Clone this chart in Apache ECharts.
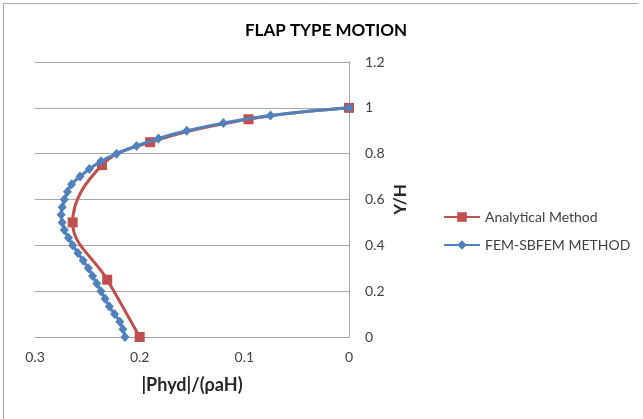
<!DOCTYPE html>
<html>
<head>
<meta charset="utf-8">
<script src="https://cdn.jsdelivr.net/npm/echarts@6/dist/echarts.min.js"></script>
<style>html,body{margin:0;padding:0;background:#fff;}#c{width:643px;height:419px;}</style>
</head>
<body>
<div id="c"></div>
<script>
var title = 'FLAP TYPE MOTION';
var xName = '|Phyd|/(\u03c1aH)';
var yName = 'Y/H';
var seriesNames = ['Analytical Method', 'FEM-SBFEM METHOD'];
var xTicks = [0, 0.1, 0.2, 0.3];
var yTicks = [0, 0.2, 0.4, 0.6, 0.8, 1, 1.2];

var analyticalY = [0, 0.25, 0.5, 0.75, 0.85, 0.95, 1];
var analyticalX = [0.200, 0.231, 0.264, 0.236, 0.190, 0.096, 0];

var femY = [0, 0.0333, 0.0667, 0.1, 0.1333, 0.1667, 0.2, 0.2333, 0.2667, 0.3, 0.3333,
  0.3667, 0.4, 0.4333, 0.4667, 0.5, 0.5333, 0.5667, 0.6, 0.6333, 0.6667,
  0.7, 0.7333, 0.7667, 0.8, 0.8333, 0.8667, 0.9, 0.9333, 0.9667, 1];
var femX = [0.214, 0.216, 0.219, 0.224, 0.229, 0.233, 0.237, 0.241, 0.245, 0.249, 0.254,
  0.259, 0.264, 0.268, 0.272, 0.274, 0.275, 0.274, 0.272, 0.269, 0.265,
  0.257, 0.248, 0.237, 0.222, 0.203, 0.182, 0.155, 0.120, 0.075, 0];

function pairs(xs, ys) { return xs.map(function (v, i) { return [v, ys[i]]; }); }

var font = 'Lato, "Open Sans", sans-serif';
var chart = echarts.init(document.getElementById('c'), null, { renderer: 'canvas' });
chart.setOption({
  animation: false,
  backgroundColor: '#ffffff',
  title: {
    text: title, left: 321, top: 17, textAlign: 'center',
    textStyle: { fontFamily: font, fontSize: 17, fontWeight: 'bold', color: '#000' }
  },
  legend: {
    orient: 'vertical', left: 438, top: 205, itemWidth: 36, itemHeight: 12, itemGap: 14,
    data: seriesNames,
    textStyle: { fontFamily: font, fontSize: 14, color: '#404040' }
  },
  grid: { left: 35, right: 294, top: 62, bottom: 82, containLabel: false },
  xAxis: {
    type: 'value', inverse: true, min: 0, max: 0.3, interval: 0.1,
    name: xName, nameLocation: 'middle', nameGap: 39,
    nameTextStyle: { fontFamily: font, fontSize: 18, fontWeight: 'bold', color: '#262626' },
    axisLine: { show: true, lineStyle: { color: '#a6a6a6', width: 1 } },
    axisTick: { show: false },
    splitLine: { show: false },
    axisLabel: { fontFamily: font, fontSize: 14, color: '#404040', margin: 13,
      formatter: function (v) { return String(Math.round(v * 10) / 10); } }
  },
  yAxis: {
    type: 'value', position: 'right', min: 0, max: 1.2, interval: 0.2,
    name: yName, nameLocation: 'middle', nameGap: 43, nameRotate: 90,
    nameTextStyle: { fontFamily: font, fontSize: 17, fontWeight: 'bold', color: '#262626' },
    axisLine: { show: true, lineStyle: { color: '#a6a6a6', width: 1 } },
    axisTick: { show: false },
    splitLine: { show: true, lineStyle: { color: '#a6a6a6', width: 1 } },
    axisLabel: { fontFamily: font, fontSize: 14, color: '#404040', margin: 16, align: 'left',
      formatter: function (v) { return String(Math.round(v * 10) / 10); } }
  },
  series: [
    {
      name: seriesNames[0], type: 'line', smooth: 0.4,
      data: pairs(analyticalX, analyticalY),
      symbol: 'rect', symbolSize: 10,
      lineStyle: { color: '#C0504D', width: 3 },
      itemStyle: { color: '#C0504D' }, z: 2
    },
    {
      name: seriesNames[1], type: 'line', smooth: 0.4,
      data: pairs(femX, femY),
      symbol: 'diamond', symbolSize: [9, 10],
      lineStyle: { color: '#4F81BD', width: 3 },
      itemStyle: { color: '#4F81BD' }, z: 3
    }
  ],
  graphic: [
    { type: 'line', shape: { x1: 3.5, y1: 3.5, x2: 638, y2: 3.5 }, style: { stroke: '#a6a6a6', lineWidth: 1 } },
    { type: 'line', shape: { x1: 3.5, y1: 3.5, x2: 3.5, y2: 419 }, style: { stroke: '#a6a6a6', lineWidth: 1 } }
  ]
});
</script>
</body>
</html>
